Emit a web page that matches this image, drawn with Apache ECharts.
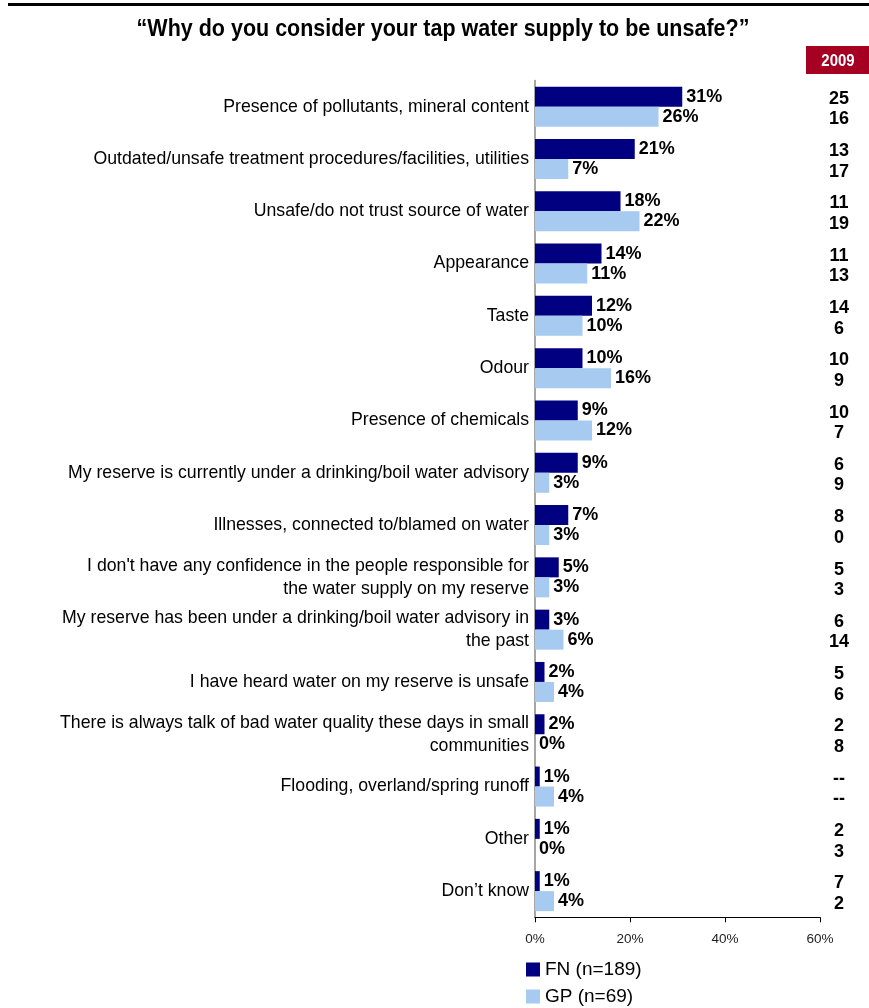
<!DOCTYPE html>
<html>
<head>
<meta charset="utf-8">
<script src="https://cdn.jsdelivr.net/npm/echarts@6/dist/echarts.min.js"></script>
<style>
  html, body { margin: 0; padding: 0; background: #fff; }
  #chart { width: 869px; height: 1008px; }
</style>
</head>
<body>
<div id="chart"></div>
<script>
// Reasons given for considering tap water unsafe (% of respondents)
const categories = [
  'Presence of pollutants, mineral content',
  'Outdated/unsafe treatment procedures/facilities, utilities',
  'Unsafe/do not trust source of water',
  'Appearance',
  'Taste',
  'Odour',
  'Presence of chemicals',
  'My reserve is currently under a drinking/boil water advisory',
  'Illnesses, connected to/blamed on water',
  "I don't have any confidence in the people responsible for\nthe water supply on my reserve",
  'My reserve has been under a drinking/boil water advisory in\nthe past',
  'I have heard water on my reserve is unsafe',
  'There is always talk of bad water quality these days in small\ncommunities',
  'Flooding, overland/spring runoff',
  'Other',
  'Don\u2019t know'
];
const fnValues = [31, 21, 18, 14, 12, 10, 9, 9, 7, 5, 3, 2, 2, 1, 1, 1];
const gpValues = [26, 7, 22, 11, 10, 16, 12, 3, 3, 3, 6, 4, 0, 4, 0, 4];
// 2009 comparison values (FN, GP)
const fn2009 = ['25', '13', '11', '11', '14', '10', '10', '6', '8', '5', '6', '5', '2', '--', '2', '7'];
const gp2009 = ['16', '17', '19', '13', '6', '9', '7', '9', '0', '3', '14', '6', '8', '--', '3', '2'];
const xTicks = [0, 20, 40, 60];
const seriesNames = ['FN (n=189)', 'GP (n=69)'];
const comparisonYear = '2009';
const titleText = '\u201CWhy do you consider your tap water supply to be unsafe?\u201D';

const FONT = "'Liberation Sans', Arial, sans-serif";

const chart = echarts.init(document.getElementById('chart'), null, { renderer: 'canvas' });

const valueLabel = {
  show: true,
  position: 'right',
  distance: 4,
  formatter: p => p.value + '%',
  fontFamily: FONT,
  fontWeight: 'bold',
  fontSize: 18,
  color: '#000'
};

chart.setOption({
  animation: false,
  backgroundColor: '#fff',
  textStyle: { fontFamily: FONT },
  graphic: [
    { type: 'rect', left: 8, top: 3, shape: { width: 861, height: 3 }, style: { fill: '#000' } },
    {
      type: 'text', x: 443, y: 29, scaleY: 1.15,
      style: {
        text: titleText, font: 'bold 21.5px ' + FONT,
        textAlign: 'center', textVerticalAlign: 'middle', fill: '#000'
      }
    },
    { type: 'rect', left: 806, top: 46, shape: { width: 63, height: 28 }, style: { fill: '#A50021' } },
    {
      type: 'text', x: 838, y: 61, scaleY: 1.1,
      style: {
        text: comparisonYear, font: 'bold 15px ' + FONT,
        textAlign: 'center', textVerticalAlign: 'middle', fill: '#fff'
      }
    }
  ],
  grid: { left: 535, right: 49, top: 80.5, bottom: 90.7, containLabel: false },
  legend: {
    orient: 'vertical',
    left: 526,
    top: 960,
    padding: 0,
    itemWidth: 14,
    itemHeight: 14,
    itemGap: 8,
    icon: 'rect',
    data: seriesNames,
    textStyle: { fontFamily: FONT, fontSize: 19, color: '#000' }
  },
  xAxis: {
    type: 'value',
    min: xTicks[0],
    max: xTicks[xTicks.length - 1],
    interval: xTicks[1] - xTicks[0],
    axisLine: { show: true, lineStyle: { color: '#000', width: 1 } },
    axisTick: { show: true, length: 5, lineStyle: { color: '#000' } },
    splitLine: { show: false },
    axisLabel: { formatter: '{value}%', fontSize: 13.5, color: '#222', margin: 15, fontFamily: FONT }
  },
  yAxis: [
    {
      type: 'category',
      data: categories,
      inverse: true,
      axisLine: { show: true, lineStyle: { color: '#888', width: 1.5 } },
      axisTick: { show: false },
      axisLabel: {
        interval: 0,
        margin: 6,
        fontSize: 17.7,
        lineHeight: 23,
        color: '#000',
        fontFamily: FONT,
        align: 'right'
      }
    },
    {
      type: 'category',
      data: categories,
      inverse: true,
      position: 'right',
      axisLine: { show: false },
      axisTick: { show: false },
      axisLabel: {
        interval: 0,
        margin: 19,
        align: 'center',
        padding: [5, 0, 0, 0],
        formatter: (v, i) => '{n|' + fn2009[i] + '}\n{n|' + gp2009[i] + '}',
        rich: {
          n: { fontFamily: FONT, fontWeight: 'bold', fontSize: 18, lineHeight: 20.5, color: '#000', align: 'center' }
        }
      }
    }
  ],
  series: [
    {
      name: seriesNames[0],
      type: 'bar',
      data: fnValues,
      barWidth: 20,
      barGap: '0%',
      itemStyle: { color: '#000080' },
      label: valueLabel
    },
    {
      name: seriesNames[1],
      type: 'bar',
      data: gpValues,
      barWidth: 20,
      itemStyle: { color: '#A6CAF0' },
      label: valueLabel
    }
  ]
});
</script>
</body>
</html>
